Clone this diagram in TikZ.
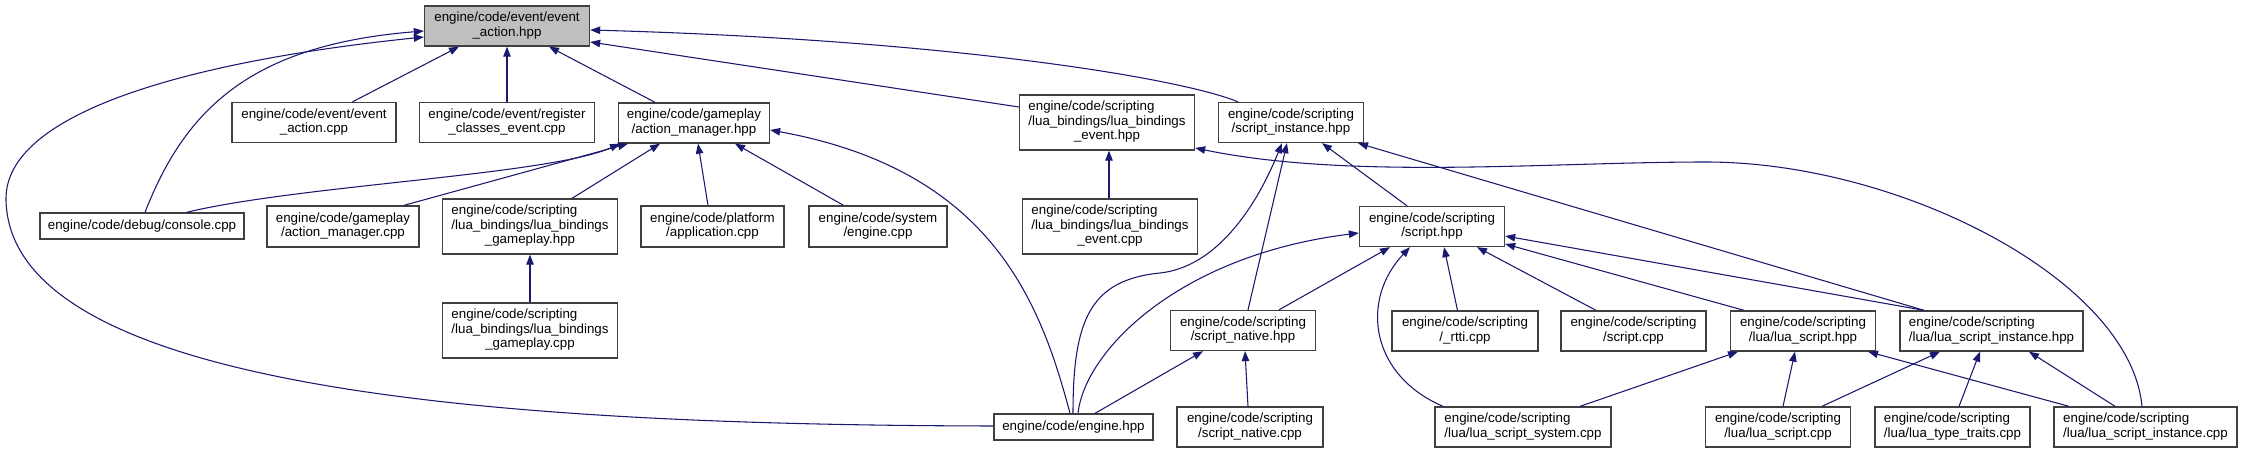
\documentclass[tikz,border=0pt]{standalone}
\usepackage{fontspec}
\setmainfont{Liberation Sans}
\usetikzlibrary{arrows.meta,calc}
\definecolor{edgec}{RGB}{25,25,112}
\definecolor{boxc}{RGB}{64,64,64}
\definecolor{rootfill}{RGB}{191,191,191}
\newcommand{\twoln}[2]{\begin{tabular}{@{}l@{}}#1\\\multicolumn{1}{@{}c@{}}{#2}\end{tabular}}
\newcommand{\threeln}[3]{\begin{tabular}{@{}l@{}}#1\\#2\\\multicolumn{1}{@{}c@{}}{#3}\end{tabular}}
\tikzset{
  box/.style={draw=boxc, fill=white, line width=1pt, inner sep=0pt, align=center,
    font=\fontsize{10}{10.9}\selectfont},
  rootbox/.style={box, fill=rootfill},
  wh/.style 2 args={minimum width={#1*0.75pt}, minimum height={#2*0.75pt}},
  edge/.style={draw=edgec, line width=0.8pt, -{Triangle[length=7.5pt,width=5.6pt]}},
}
\begin{document}
\begin{tikzpicture}[x=0.75pt,y=-0.75pt]
\useasboundingbox (0,0) rectangle (2243,453);
\fill[white] (0,0) rectangle (2243,453);

% nodes
\node[rootbox, wh={165}{40}] (root) at (507,26) {\twoln{engine/code/event/event}{\_action.hpp}};
\node[box, wh={164}{40}] (eac) at (314,122.5) {\twoln{engine/code/event/event}{\_action.cpp}};
\node[box, wh={175}{40}] (rce) at (507,122.5) {\twoln{engine/code/event/register}{\_classes\_event.cpp}};
\node[box, wh={151}{40}] (amh) at (694,123) {\twoln{engine/code/gameplay}{/action\_manager.hpp}};
\node[box, wh={175}{55}] (lbeh) at (1107,122.5) {\threeln{engine/code/scripting}{/lua\_bindings/lua\_bindings}{\_event.hpp}};
\node[box, wh={145}{40}] (sih) at (1291,122.5) {\twoln{engine/code/scripting}{/script\_instance.hpp}};

\node[box, wh={204}{26}] (con) at (142,226) {engine/code/debug/console.cpp};
\node[box, wh={152}{41}] (amc) at (343,226.5) {\twoln{engine/code/gameplay}{/action\_manager.cpp}};
\node[box, wh={175}{55}] (lbgh) at (530,226.5) {\threeln{engine/code/scripting}{/lua\_bindings/lua\_bindings}{\_gameplay.hpp}};
\node[box, wh={143}{41}] (app) at (712.5,226.5) {\twoln{engine/code/platform}{/application.cpp}};
\node[box, wh={138}{41}] (seng) at (878,226.5) {\twoln{engine/code/system}{/engine.cpp}};
\node[box, wh={175}{55}] (lbec) at (1110,226.5) {\threeln{engine/code/scripting}{/lua\_bindings/lua\_bindings}{\_event.cpp}};
\node[box, wh={145}{40}] (sh) at (1432,226.5) {\twoln{engine/code/scripting}{/script.hpp}};

\node[box, wh={175}{55}] (lbgc) at (530,330.5) {\threeln{engine/code/scripting}{/lua\_bindings/lua\_bindings}{\_gameplay.cpp}};
\node[box, wh={145}{40}] (snh) at (1243,330.5) {\twoln{engine/code/scripting}{/script\_native.hpp}};
\node[box, wh={146}{40}] (rtti) at (1465,331) {\twoln{engine/code/scripting}{/\_rtti.cpp}};
\node[box, wh={145}{40}] (scpp) at (1633.5,331) {\twoln{engine/code/scripting}{/script.cpp}};
\node[box, wh={145}{40}] (lsh) at (1803,331) {\twoln{engine/code/scripting}{/lua/lua\_script.hpp}};
\node[box, wh={183}{40}] (lsih) at (1991.5,331) {\twoln{engine/code/scripting}{/lua/lua\_script\_instance.hpp}};

\node[box, wh={159}{26}] (eh) at (1073.5,427) {engine/code/engine.hpp};
\node[box, wh={146}{40}] (snc) at (1250,427) {\twoln{engine/code/scripting}{/script\_native.cpp}};
\node[box, wh={176}{40}] (lssc) at (1523,427) {\twoln{engine/code/scripting}{/lua/lua\_script\_system.cpp}};
\node[box, wh={145}{40}] (lsc) at (1778,427) {\twoln{engine/code/scripting}{/lua/lua\_script.cpp}};
\node[box, wh={155}{40}] (ltt) at (1952.5,427) {\twoln{engine/code/scripting}{/lua/lua\_type\_traits.cpp}};
\node[box, wh={183}{40}] (lsic) at (2145.5,427) {\twoln{engine/code/scripting}{/lua/lua\_script\_instance.cpp}};

% edges into root
\draw[edge] (eac.north -| 352.5,0) -- (root.south -| 459,0);
\draw[edge] (rce.north -| 507,0) -- (root.south -| 507,0);
\draw[edge] (amh.north -| 655,0) -- (root.south -| 549,0);
\draw[edge] (con.north -| 145,0) .. controls (185,110) and (250,45) .. (root.west |- 0,31);
\draw[edge] (lbeh.west |- 0,107) -- (root.east |- 0,42);
\draw[edge] (sih.north -| 1238,0) .. controls (1180,78) and (950,40) .. (root.east |- 0,30);
\draw[edge] (eh.west |- 0,426) .. controls (500,425) and (10,390) .. (6,200)
            .. controls (4,110) and (200,60) .. (root.west |- 0,37);

% edges into action_manager.hpp
\draw[edge] (con.north -| 186.5,0) .. controls (300,185) and (550,175) .. (amh.south -| 620,0);
\draw[edge] (amc.north -| 404,0) -- (amh.south -| 628,0);
\draw[edge] (lbgh.north -| 572,0) -- (amh.south -| 660,0);
\draw[edge] (app.north -| 708,0) -- (amh.south -| 698,0);
\draw[edge] (seng.north -| 843.5,0) -- (amh.south -| 735,0);
\draw[edge] (eh.north -| 1070,0) .. controls (1040,300) and (990,170) .. (amh.east |- 0,130);

% lua bindings
\draw[edge] (lbgc.north) -- (lbgh.south);
\draw[edge] (lbec.north -| 1109,0) -- (lbeh.south -| 1109,0);
\draw[edge] (lsic.north -| 2142,0) .. controls (2130,280) and (1900,162) .. (1706,162)
            .. controls (1550,162) and (1350,180) .. (lbeh.east |- 0,148);

% into script_instance.hpp
\draw[edge] (eh.north -| 1073,0) .. controls (1073,320) and (1090,280) .. (1160,273)
            .. controls (1215,267) and (1255,210) .. (sih.south -| 1282,0);
\draw[edge] (snh.north -| 1248,0) -- (sih.south -| 1287,0);
\draw[edge] (sh.north -| 1407,0) -- (sih.south -| 1322,0);
\draw[edge] (lsih.north -| 1924,0) -- (sih.south -| 1358,0);

% into script.hpp
\draw[edge] (eh.north -| 1078,0) .. controls (1085,350) and (1180,255) .. (sh.west |- 0,233);
\draw[edge] (snh.north -| 1279,0) -- (sh.south -| 1390,0);
\draw[edge] (rtti.north -| 1457.5,0) -- (sh.south -| 1444,0);
\draw[edge] (scpp.north -| 1596,0) -- (sh.south -| 1477,0);
\draw[edge] (lsh.north -| 1744,0) -- (sh.east |- 0,244);
\draw[edge] (lsih.north -| 1924,0) -- (sh.east |- 0,236);
\draw[edge] (lssc.north -| 1443,0) .. controls (1370,375) and (1360,300) .. (sh.south -| 1410,0);

% script_native.hpp
\draw[edge] (eh.north -| 1095,0) -- (snh.south -| 1203,0);
\draw[edge] (snc.north -| 1248,0) -- (snh.south -| 1245,0);

% lua_script.hpp
\draw[edge] (lssc.north -| 1580,0) -- (lsh.south -| 1738,0);
\draw[edge] (lsc.north -| 1783,0) -- (lsh.south -| 1795,0);
\draw[edge] (lsic.north -| 2069,0) -- (lsh.south -| 1868,0);

% lua_script_instance.hpp
\draw[edge] (lsc.north -| 1822,0) -- (lsih.south -| 1940,0);
\draw[edge] (ltt.north -| 1959,0) -- (lsih.south -| 1980,0);
\draw[edge] (lsic.north -| 2115,0) -- (lsih.south -| 2029,0);
\end{tikzpicture}
\end{document}
